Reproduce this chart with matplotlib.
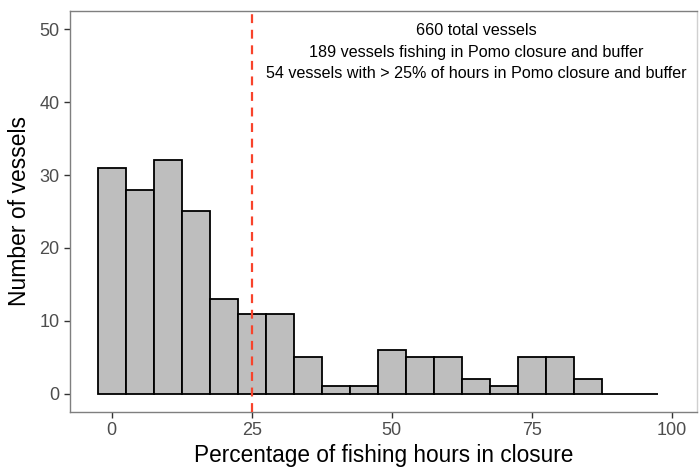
import matplotlib
matplotlib.use("Agg")
import matplotlib.pyplot as plt

plt.rcParams['font.family'] = ['Liberation Sans', 'DejaVu Sans']

bin_centers = [0, 5, 10, 15, 20, 25, 30, 35, 40, 45, 50, 55, 60, 65, 70, 75, 80, 85, 90, 95]
counts = [31, 28, 32, 25, 13, 11, 11, 5, 1, 1, 6, 5, 5, 2, 1, 5, 5, 2, 0, 0]
x_ticks = [0, 25, 50, 75, 100]
y_ticks = [0, 10, 20, 30, 40, 50]
annot_lines = ["660 total vessels",
               "189 vessels fishing in Pomo closure and buffer",
               "54 vessels with > 25% of hours in Pomo closure and buffer"]
threshold = 25

fig = plt.figure(figsize=(6.99, 4.69), dpi=100)
ax = fig.add_axes([70/699, (469-412)/469, 627/699, 401/469])

ax.bar(bin_centers, counts, width=5, color='#BEBEBE', edgecolor='black', linewidth=1.3, zorder=2)
ax.axvline(threshold, color='#F8432B', linestyle=(0, (4, 3)), linewidth=1.6, zorder=3)

ax.set_xlim(-7.45, 104.5)
ax.set_ylim(-2.5, 52.5)
ax.set_xticks(x_ticks)
ax.set_yticks(y_ticks)

for s in ax.spines.values():
    s.set_color('#7F7F7F')
    s.set_linewidth(1.0)
ax.spines['right'].set_color('#D0D0D0')
ax.tick_params(axis='both', colors='#333333', labelcolor='#4D4D4D', labelsize=13, length=4.5, width=1.0, direction='out')
ax.tick_params(axis='x', pad=3)
ax.tick_params(axis='y', pad=3)

ax.set_xlabel('Percentage of fishing hours in closure', fontsize=16.3, labelpad=3)
ax.set_ylabel('Number of vessels', fontsize=16.5, labelpad=6)

for line, yv in zip(annot_lines, [30, 52, 73]):
    ax.annotate(line, xy=(65, 0), xycoords='data', xytext=(476/699, 1 - yv/469),
                textcoords='figure fraction', ha='center', va='center', fontsize=11.6, color='black')

fig.savefig('out.png', dpi=100)
